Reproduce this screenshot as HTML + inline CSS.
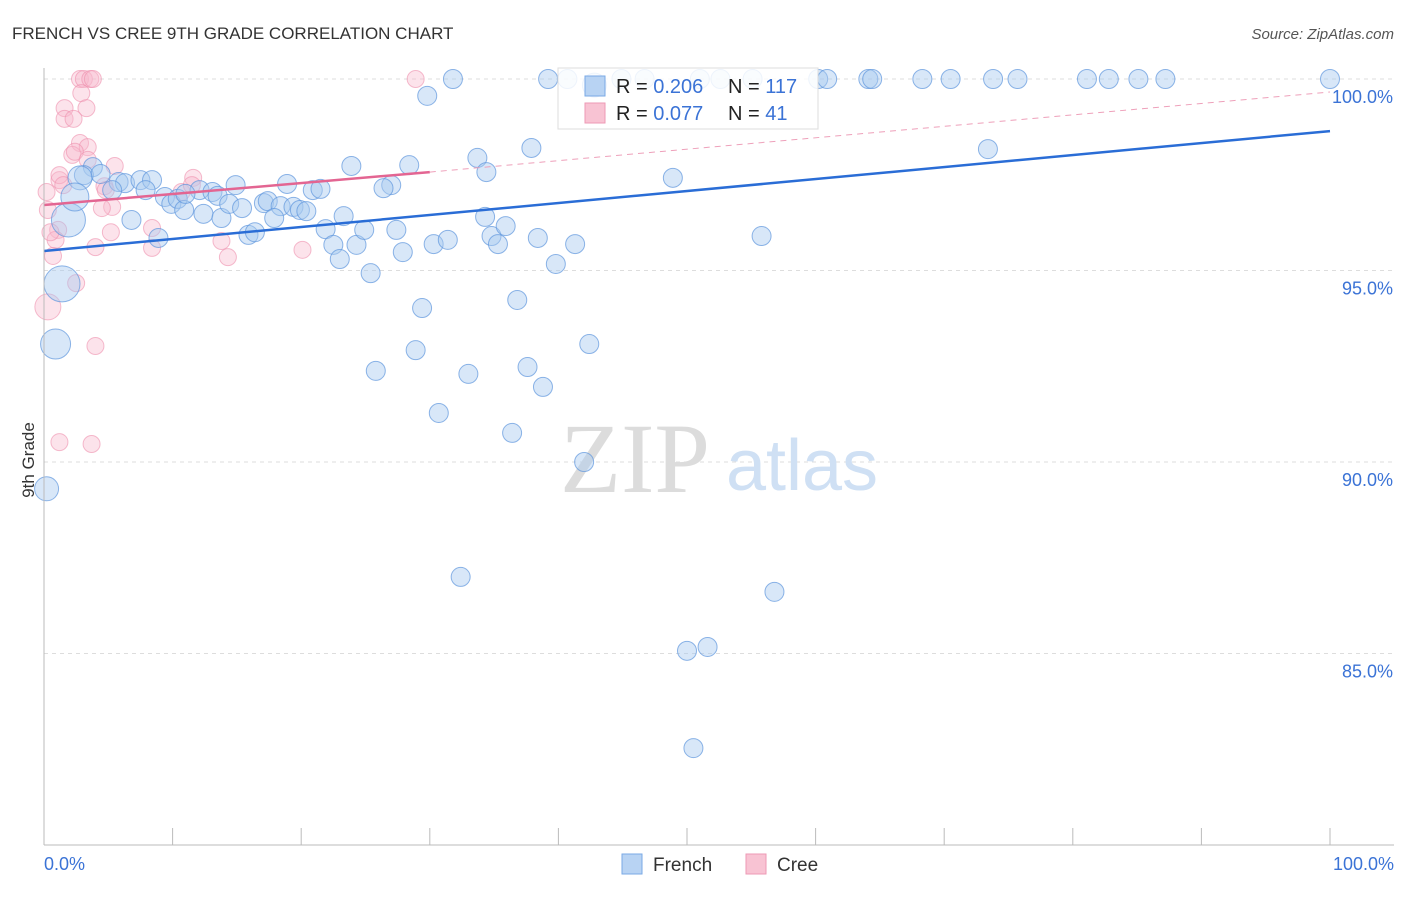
<!DOCTYPE html>
<html><head><meta charset="utf-8"><style>
body{margin:0;background:#fff;font-family:"Liberation Sans",sans-serif}
svg text{font-family:"Liberation Sans",sans-serif}
</style></head><body>
<svg id="chart" width="1406" height="892" xmlns="http://www.w3.org/2000/svg">
<text x="12" y="39" font-size="17" fill="#333">FRENCH VS CREE 9TH GRADE CORRELATION CHART</text>
<text x="1394" y="39" font-size="15" fill="#555" font-style="italic" text-anchor="end">Source: ZipAtlas.com</text>
<g id="grid"></g>
<text x="635" y="492" font-size="100" fill="#dcdcdc" text-anchor="middle" style="font-family:'Liberation Serif',serif">ZIP</text>
<text x="802" y="490" font-size="72" fill="#cfe0f4" text-anchor="middle">atlas</text>
<g id="pts"></g>
<g id="lines"></g>
<g id="axes"></g>
<text x="34" y="460" font-size="17" fill="#333" text-anchor="middle" transform="rotate(-90 34 460)">9th Grade</text>
<g>
<rect x="558" y="68" width="260" height="61" fill="#fff" fill-opacity="0.85" stroke="#ddd"/>
<rect x="585" y="76" width="20" height="20" fill="#b8d3f3" stroke="#7aa9e6"/>
<rect x="585" y="103" width="20" height="20" fill="#f8c3d3" stroke="#ee9ab4"/>
<text x="616" y="93" font-size="20" fill="#222">R = <tspan fill="#3b73d6">0.206</tspan></text>
<text x="728" y="93" font-size="20" fill="#222">N = <tspan fill="#3b73d6">117</tspan></text>
<text x="616" y="120" font-size="20" fill="#222">R = <tspan fill="#3b73d6">0.077</tspan></text>
<text x="728" y="120" font-size="20" fill="#222">N = <tspan fill="#3b73d6"> 41</tspan></text>
</g>
<g>
<rect x="622" y="854" width="20" height="20" fill="#b8d3f3" stroke="#7aa9e6"/>
<text x="653" y="871" font-size="19" fill="#333">French</text>
<rect x="746" y="854" width="20" height="20" fill="#f8c3d3" stroke="#ee9ab4"/>
<text x="777" y="871" font-size="19" fill="#333">Cree</text>
</g>
</svg>
<script>
const yTicks=[100,95,90,85];
const yTickLabels=["100.0%","95.0%","90.0%","85.0%"];
const xTickLabels=["0.0%","100.0%"];
const frenchX=[31.8,39.2,40.7,44.9,46.7,51.0,52.6,55.1,60.2,60.9,64.1,64.4,68.3,70.5,73.8,75.7,81.1,82.8,85.1,87.2,100,42.8,29.8,73.4,37.9,33.7,23.9,28.4,34.4,48.9,27.0,26.4,3.8,3.1,4.4,5.8,6.3,5.3,7.5,8.4,7.9,9.4,9.9,10.4,10.9,12.1,13.1,13.5,12.4,13.8,14.4,14.9,15.4,17.1,17.4,18.4,17.9,18.9,19.4,19.9,20.4,20.9,21.5,21.9,22.5,23.0,23.3,24.3,24.9,25.4,27.4,27.9,29.4,28.9,25.8,30.3,31.4,34.3,33.0,30.7,34.8,35.3,35.9,36.8,38.4,39.8,41.3,37.6,38.8,42.4,36.4,42.0,32.4,56.8,50.0,51.6,50.5,55.8,6.8,8.9,15.9,16.4,11.0,2.8,1.9,1.4,0.9,0.2,2.4];
const frenchY=[100,100,100,100,100,100,100,100,100,100,100,100,100,100,100,100,100,100,100,100,100,99.84,99.56,98.17,98.2,97.94,97.73,97.75,97.57,97.42,97.23,97.15,97.7,97.49,97.52,97.31,97.28,97.1,97.36,97.36,97.1,96.92,96.74,96.87,96.58,97.1,97.05,96.95,96.48,96.37,96.74,97.23,96.63,96.76,96.81,96.68,96.37,97.26,96.66,96.58,96.55,97.1,97.13,96.08,95.67,95.3,96.42,95.67,96.06,94.93,96.06,95.48,94.02,92.92,92.38,95.69,95.8,96.4,92.3,91.28,95.9,95.69,96.16,94.23,95.85,95.17,95.69,92.48,91.96,93.08,90.76,90.0,87.0,86.61,85.07,85.17,82.53,95.9,96.32,95.85,95.93,96.0,97.0,97.42,96.32,94.65,93.08,89.3,96.92];
const frenchR=[9.5,9.5,9.5,9.5,9.5,9.5,9.5,9.5,9.5,9.5,9.5,9.5,9.5,9.5,9.5,9.5,9.5,9.5,9.5,9.5,9.5,12,9.5,9.5,9.5,9.5,9.5,9.5,9.5,9.5,9.5,9.5,9.5,9.5,9.5,9.5,9.5,9.5,9.5,9.5,9.5,9.5,9.5,9.5,9.5,9.5,9.5,9.5,9.5,9.5,9.5,9.5,9.5,9.5,9.5,9.5,9.5,9.5,9.5,9.5,9.5,9.5,9.5,9.5,9.5,9.5,9.5,9.5,9.5,9.5,9.5,9.5,9.5,9.5,9.5,9.5,9.5,9.5,9.5,9.5,9.5,9.5,9.5,9.5,9.5,9.5,9.5,9.5,9.5,9.5,9.5,9.5,9.5,9.5,9.5,9.5,9.5,9.5,9.5,9.5,9.5,9.5,9.5,12,17,18,15,12,14];
const creeX=[2.8,3.1,3.6,3.8,28.9,2.9,1.6,3.3,1.6,2.3,2.8,3.4,2.2,2.4,1.2,1.2,0.2,0.3,1.5,3.4,5.5,4.7,4.8,5.3,4.5,5.2,4.0,1.1,0.9,0.7,0.5,2.5,0.3,4.0,1.2,3.7,11.6,10.7,8.4,8.4,13.8,14.3,20.1,11.5];
const creeY=[100,100,100,100,100,99.63,99.24,99.24,98.96,98.96,98.33,98.22,98.02,98.1,97.36,97.49,97.05,96.58,97.23,97.89,97.73,97.2,97.1,96.66,96.63,96.0,95.61,96.06,95.8,95.38,96.0,94.67,94.05,93.03,90.52,90.47,97.42,97.05,96.11,95.59,95.77,95.35,95.54,97.23];
const frenchLine=[[0,95.51],[100,98.64]];
const creeLine=[[0,96.71],[30,97.57]];
const creeDash=[[30,97.57],[100,99.66]];
const NS="http://www.w3.org/2000/svg";
const X0=44,X1=1330,Y100=79,PER=38.3;
const sx=v=>X0+(X1-X0)*v/100;
const sy=v=>Y100+(100-v)*PER;
function mk(tag,attrs,parent){const e=document.createElementNS(NS,tag);for(const k in attrs)e.setAttribute(k,attrs[k]);parent.appendChild(e);return e;}
const grid=document.getElementById('grid'),axes=document.getElementById('axes'),pts=document.getElementById('pts'),lines=document.getElementById('lines');
yTicks.forEach((t,i)=>{
  const l=mk('line',{x1:X0,x2:1394,y1:sy(t),y2:sy(t),stroke:'#ddd','stroke-dasharray':'4 4'},grid);
  
  
  const tx=mk('text',{x:1393,y:sy(t)+24,'font-size':18,fill:'#3b73d6','text-anchor':'end'},axes);
  tx.textContent=yTickLabels[i];
  
  
});
const ax=mk('line',{x1:X0,x2:1394,y1:845,y2:845,stroke:'#bbb'},axes);


const ay=mk('line',{x1:X0,x2:X0,y1:68,y2:845,stroke:'#bbb'},axes);


for(let i=0;i<=10;i++){
  const t=mk('line',{x1:sx(i*10),x2:sx(i*10),y1:828,y2:845,stroke:'#bbb'},axes);
  
  
}
[[0,'start',44],[1,'end',1394]].forEach(([i,a,x])=>{
  const t=mk('text',{x:x,y:870,'font-size':18,fill:'#3b73d6','text-anchor':a},axes);
  t.textContent=xTickLabels[i];
  
  
});
creeX.forEach((v,i)=>{
  const c=mk('circle',{cx:sx(v),cy:sy(creeY[i]),r:(i===32?13:8.5),fill:'#f8b9cc','fill-opacity':0.4,stroke:'#ee8fae','stroke-opacity':0.6},pts);
  
  
});
frenchX.forEach((v,i)=>{
  const c=mk('circle',{cx:sx(v),cy:sy(frenchY[i]),r:frenchR[i],fill:'#a9c9f0','fill-opacity':0.45,stroke:'#5e95dd','stroke-opacity':0.7},pts);
  
  
});
const fl=mk('line',{x1:sx(frenchLine[0][0]),y1:sy(frenchLine[0][1]),x2:sx(frenchLine[1][0]),y2:sy(frenchLine[1][1]),stroke:'#2a6dd6','stroke-width':2.5},lines);


const cl=mk('line',{x1:sx(creeLine[0][0]),y1:sy(creeLine[0][1]),x2:sx(creeLine[1][0]),y2:sy(creeLine[1][1]),stroke:'#e36592','stroke-width':2.5},lines);


const cd=mk('line',{x1:sx(creeDash[0][0]),y1:sy(creeDash[0][1]),x2:sx(creeDash[1][0]),y2:sy(creeDash[1][1]),stroke:'#eea0ba','stroke-width':1,'stroke-dasharray':'6 5'},lines);


</script>
</body></html>
